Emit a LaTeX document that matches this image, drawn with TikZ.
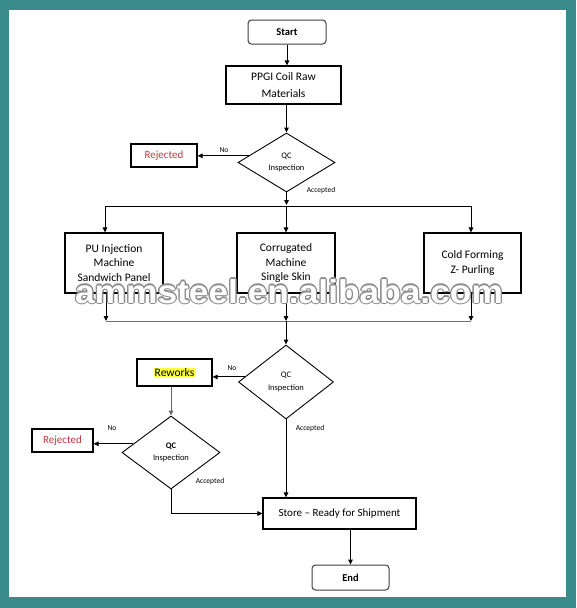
\documentclass[tikz,border=0pt]{standalone}
\usepackage{fontspec}
\setmainfont{Carlito}
\newfontfamily\wmfont{Liberation Sans}
\usetikzlibrary{shapes.geometric,arrows.meta}
\definecolor{teal0}{RGB}{58,140,140}
\definecolor{rejred}{RGB}{192,60,60}
\definecolor{hiyel}{RGB}{255,255,60}
\tikzset{
  box/.style={draw, line width=1.1pt, align=center, inner sep=0pt,
    font=\fontsize{11.5}{14.6}\selectfont},
  term/.style={draw=black!75, line width=1pt, rounded corners=3.5pt, inner sep=0pt,
    font=\fontsize{10.5}{12}\selectfont\bfseries},
  dia/.style={diamond, draw, line width=0.9pt, inner sep=0pt, align=center,
    font=\fontsize{8.5}{12.5}\selectfont},
  lbl/.style={font=\fontsize{7.5}{9}\selectfont, inner sep=0pt},
  arr/.style={-{Triangle[length=5pt,width=4.5pt]}, line width=1pt},
  ln/.style={line width=1pt},
}
\begin{document}
\begin{tikzpicture}[x=1pt,y=-1pt]
\fill[teal0] (0,0) rectangle (576,608);
\fill[white] (9,10) rectangle (566,597);
\useasboundingbox (0,0) rectangle (576,608);

\node[term, minimum width=78pt, minimum height=24pt] (start) at (287,32) {Start};
\node[box, minimum width=115pt, minimum height=38pt, font=\fontsize{11.5}{16.7}\selectfont] (ppgi) at (283.5,85) {PPGI Coil Raw\\Materials};
\node[dia, minimum width=97pt, minimum height=59pt] (q1) at (286.5,162.5) {QC\\Inspection};
\node[box, minimum width=66pt, minimum height=23pt, text=rejred, font=\fontsize{11}{13}\selectfont] (rej1) at (164,155.5) {Rejected};

\node[box, minimum width=98pt, minimum height=60pt] (pu) at (114,263) {PU Injection\\Machine\\Sandwich Panel};
\node[box, minimum width=98pt, minimum height=60pt] (corr) at (286,263) {Corrugated\\Machine\\Single Skin};
\node[box, minimum width=97pt, minimum height=60pt] (cold) at (472.5,263) {Cold Forming\\Z- Purling};

\node[dia, minimum width=95pt, minimum height=74pt] (q2) at (286,382) {QC\\Inspection};
\node[box, minimum width=75pt, minimum height=27pt, font=\fontsize{11.5}{13}\selectfont] (rew) at (174.5,372.5) {{\setlength\fboxsep{0.8pt}\colorbox{hiyel}{Reworks}}};
\node[dia, minimum width=98pt, minimum height=73pt] (q3) at (171,452.5) {\textbf{QC}\\Inspection};
\node[box, minimum width=61pt, minimum height=23pt, text=rejred, font=\fontsize{11}{13}\selectfont] (rej2) at (62.5,440.5) {Rejected};

\node[box, minimum width=153pt, minimum height=31pt, font=\fontsize{11}{13}\selectfont] (store) at (339.5,513.5) {Store -- Ready for Shipment};
\node[term, minimum width=77pt, minimum height=25pt] (end) at (350.5,577.5) {End};

% labels
\node[lbl] (l1) at (224,150) {No};
\node[lbl] (l2) at (321,190) {Accepted};
\node[lbl] (l3) at (232,368) {No};
\node[lbl] (l4) at (310,428) {Accepted};
\node[lbl] (l5) at (112,428) {No};
\node[lbl] (l6) at (210,481) {Accepted};

% connectors
\draw[arr] (start.south) -- (start.south |- ppgi.north);
\draw[arr] (ppgi.south -| q1.north) -- (q1.north);
\draw[arr] (q1.170) -- (q1.170 -| rej1.east);

\coordinate (b1) at (105,206);
\coordinate (b3) at (471,206);
\draw[arr] (q1.south) -- ([yshift=1pt]q1.south |- b1);
\draw[ln] (b1) -- (b3);
\draw[arr] (b1) -- (b1 |- pu.north);
\draw[arr] (corr.north |- b1) -- (corr.north);
\draw[arr] (b3) -- (b3 |- cold.north);

\coordinate (c1) at (106,321);
\coordinate (c3) at (471,321);
\draw[ln, black!55] (c1) -- (c3);
\draw[arr] (pu.south -| c1) -- (c1);
\draw[arr] (cold.south -| c3) -- (c3);
\draw[arr] (corr.south) -- (corr.south |- c1);
\draw[arr] (corr.south |- c1) -- (q2.north);

\draw[arr] (q2.173) -- (q2.173 -| rew.east);
\draw[arr, black!60] (rew.south -| q3.north) -- (q3.north);
\draw[arr] (q3.167) -- (q3.167 -| rej2.east);
\draw[arr] (q3.south) |- (store.west);
\draw[arr] (q2.south) -- (q2.south |- store.north);
\draw[arr] (store.south -| end.north) -- (end.north);

% watermark (outlined text)
\foreach \a in {0,45,...,315}{
  \node[anchor=base, inner sep=0pt, text=black!45, xscale=1.07,
    font=\wmfont\bfseries\fontsize{33}{33}\selectfont]
    at ([shift={(\a:1.3pt)}]289,303) {ammsteel.en.alibaba.com};
}
\node[anchor=base, inner sep=0pt, text=white, xscale=1.07,
  font=\wmfont\bfseries\fontsize{33}{33}\selectfont]
  (wm) at (289,303) {ammsteel.en.alibaba.com};
\end{tikzpicture}
\end{document}
